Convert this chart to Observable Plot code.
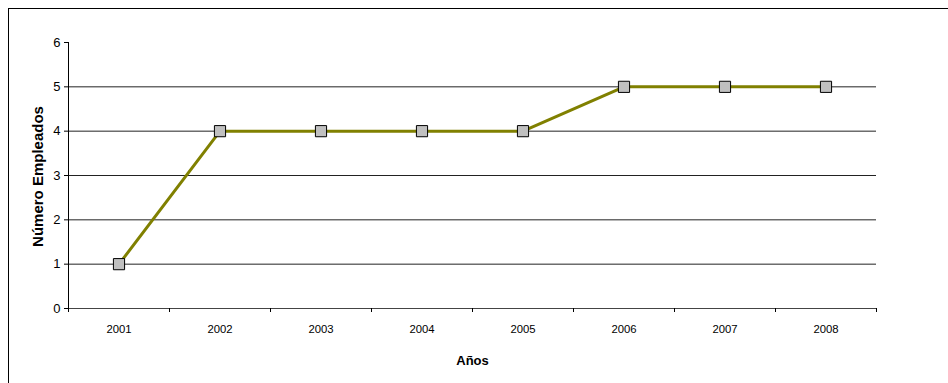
<!DOCTYPE html>
<html><head><meta charset="utf-8">
<script src="https://cdn.jsdelivr.net/npm/d3@7"></script>
<script src="https://cdn.jsdelivr.net/npm/@observablehq/plot@0.6"></script>
<style>
html,body{margin:0;padding:0;background:#fff;overflow:hidden;width:948px;height:383px;}
#wrap{position:relative;width:948px;height:383px;}
#border{position:absolute;left:8px;top:8px;width:960px;height:400px;border:1px solid #000;box-sizing:border-box;}
#chart{position:absolute;left:0;top:0;}
</style></head>
<body><div id="wrap"><div id="border"></div><div id="chart"></div></div>
<script>
const years = ["2001","2002","2003","2004","2005","2006","2007","2008"];
const empleados = [1,4,4,4,4,5,5,5];
const yTicks = [0,1,2,3,4,5,6];
const gridTicks = [1,2,3,4,5];
const yTitle = "Número Empleados";
const xTitle = "Años";

const data = years.map((y,i)=>({i: i+0.5, year: y, v: empleados[i]}));
const font = "'Liberation Sans', Arial, sans-serif";

const chart = Plot.plot({
  width: 948, height: 383,
  marginLeft: 68, marginRight: 72, marginTop: 42, marginBottom: 75,
  style: {fontFamily: font, background: "transparent", overflow: "visible", color: "#000"},
  x: {type: "linear", domain: [0, years.length], axis: null},
  y: {domain: [0, 6], axis: null},
  marks: [
    Plot.gridY(gridTicks, {stroke: "#222", strokeOpacity: 1, strokeWidth: 1}),
    Plot.ruleY([0], {stroke: "#444", strokeWidth: 1}),
    Plot.ruleX([0], {stroke: "#000", strokeWidth: 1}),
    Plot.axisY(yTicks, {tickSize: 4, text: null, label: null, stroke: "#000"}),
    Plot.text(yTicks, {x: 0, y: d => d, dx: -8, textAnchor: "end", fontSize: 13, fill: "#000"}),
    Plot.axisX(d3.range(0, years.length + 1), {tickSize: 4, text: null, label: null, stroke: "#000"}),
    Plot.text(data, {x: "i", y: 0, dy: 21, text: "year", fontSize: 11.3, fill: "#000", style: {letterSpacing: "-0.2px"}}),
    Plot.line(data, {x: "i", y: "v", stroke: "#808000", strokeWidth: 3}),
    Plot.dot(data, {x: "i", y: "v", symbol: "square", r: 6.3, fill: "#c0c0c0", stroke: "#000", strokeWidth: 1}),
    Plot.text([yTitle], {frameAnchor: "left", textAnchor: "middle", lineAnchor: "middle", dx: -30.5, dy: 1, rotate: -90, fontSize: 15, fontWeight: "bold", fill: "#000"}),
    Plot.text([xTitle], {frameAnchor: "bottom", textAnchor: "middle", lineAnchor: "middle", dy: 52, fontSize: 13, fontWeight: "bold", fill: "#000", style: {letterSpacing: "-0.5px"}})
  ]
});
document.getElementById("chart").appendChild(chart);
</script>
</body></html>
